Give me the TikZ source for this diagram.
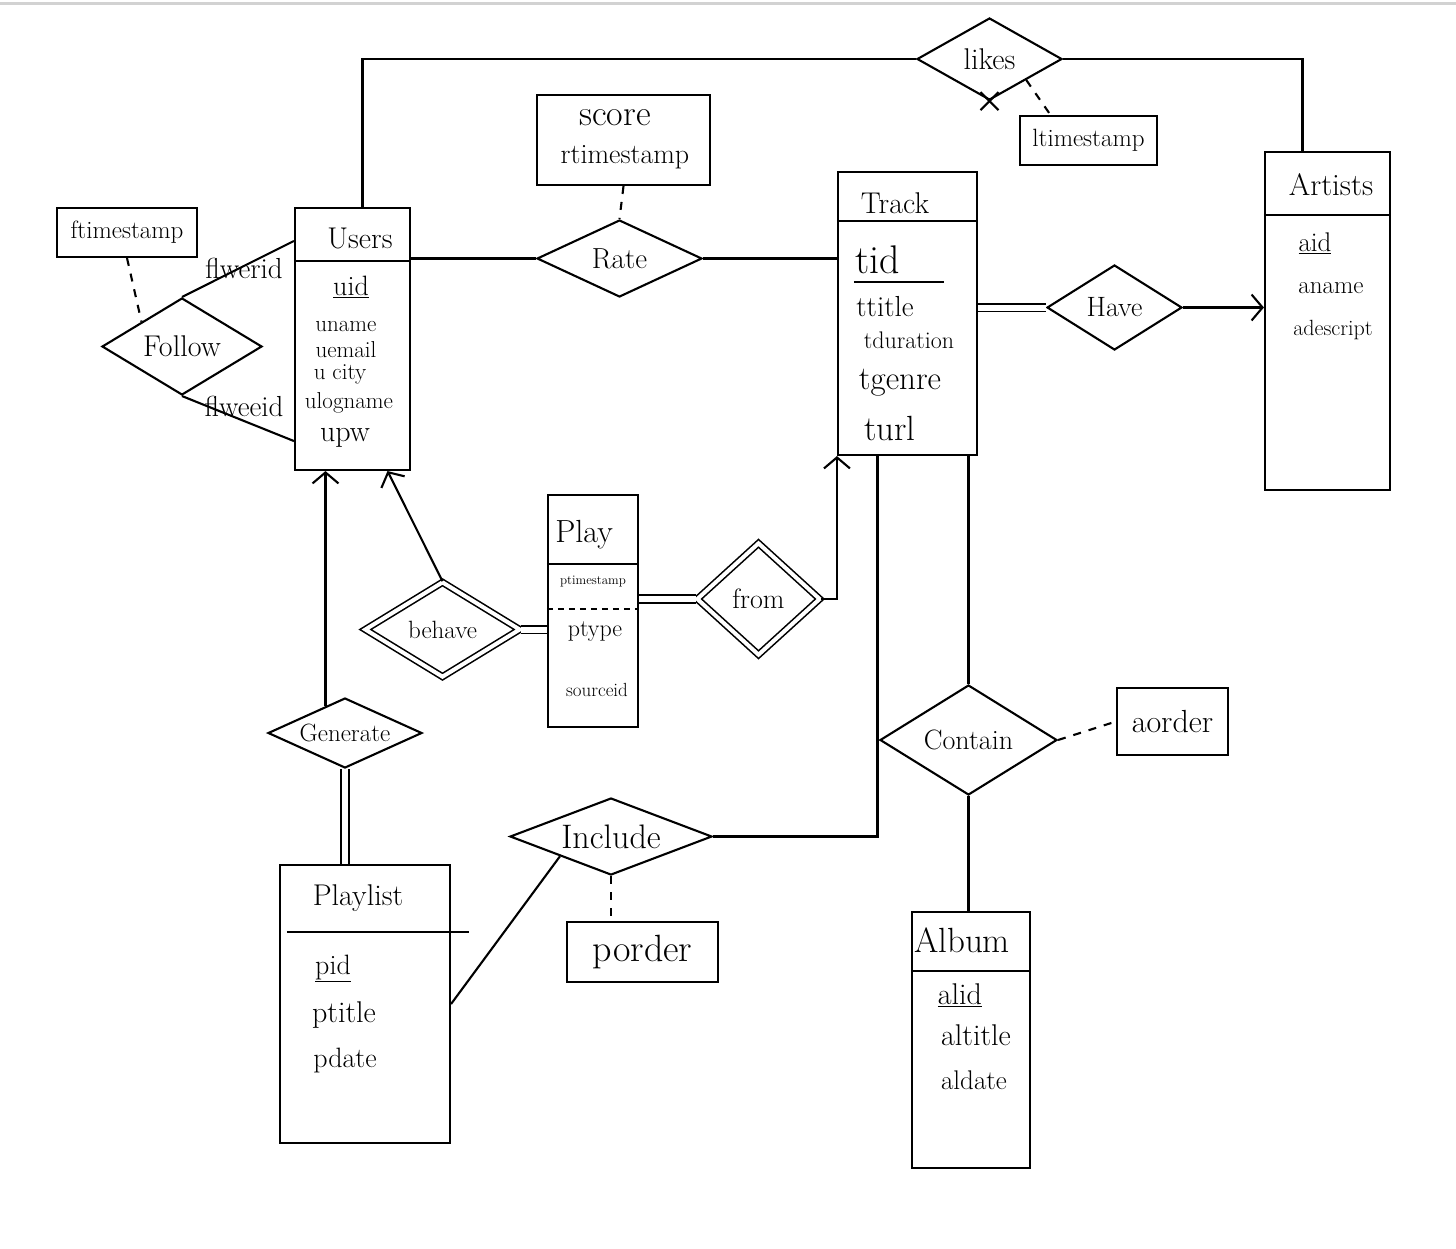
\documentclass[tikz,border=0pt]{standalone}
\usetikzlibrary{shapes.geometric,arrows.meta,calc}
\newcommand\hsz[1]{\fontsize{#1}{#1}\selectfont}
\begin{document}
\begin{tikzpicture}[x=1pt,y=-1pt, line width=2.1pt,
  entity/.style={draw, line width=2.1pt, inner sep=0pt, rectangle},
  attrbox/.style={draw, line width=2.1pt, inner sep=0pt, rectangle},
  rel/.style={draw, line width=2.1pt, shape=diamond, inner sep=0pt},
  wrel/.style={rel, double, double distance=4pt, line width=1.6pt},
  txt/.style={inner sep=0pt, anchor=center},
  arr/.style={-{Straight Barb[length=11pt,width=26pt,line width=2.1pt]}},
  dbl/.style={double, double distance=6pt, line width=1.7pt},
  dsh/.style={dashed, dash pattern=on 8pt off 8pt}
]
\useasboundingbox (0,0) rectangle (1456,1248);
\fill[white] (0,0) rectangle (1456,1248);
\draw[gray!35, line width=3pt] (0,3) -- (1456,3);

% ---------- entities ----------
\node[entity, minimum width=115pt, minimum height=262pt] (users) at (352.5,339) {};
\node[entity, minimum width=139pt, minimum height=283pt] (track) at (907.5,313.5) {};
\node[entity, minimum width=125pt, minimum height=338pt] (artists) at (1327.5,321) {};
\node[entity, minimum width=90pt, minimum height=232pt] (play) at (593,611) {};
\node[entity, minimum width=170pt, minimum height=278pt] (playlist) at (365,1004) {};
\node[entity, minimum width=118pt, minimum height=256pt] (album) at (971,1040) {};

% header separators
\draw ([shift={(0,54)}]users.north west) -- ([shift={(0,54)}]users.north east);
\draw ([shift={(0,50)}]track.north west) -- ([shift={(0,50)}]track.north east);
\draw ([shift={(0,64)}]artists.north west) -- ([shift={(0,64)}]artists.north east);
\draw ([shift={(0,70)}]play.north west) -- ([shift={(0,70)}]play.north east);
\draw[dashed, dash pattern=on 6pt off 5pt] ([shift={(0,115)}]play.north west) -- ([shift={(0,115)}]play.north east);
\draw ([shift={(8,68)}]playlist.north west) -- ([shift={(18,68)}]playlist.north east);
\draw ([shift={(0,60)}]album.north west) -- ([shift={(0,60)}]album.north east);

% entity texts
\node[txt] (tUsers) at (360,238) {\hsz{30}Users};
\node[txt] (tuid) at (351,287) {\hsz{28}\underline{uid}};
\node[txt] (tuname) at (346,327) {\hsz{23}uname};
\node[txt] (tuemail) at (346,350) {\hsz{23}uemail};
\node[txt] (tucity) at (340,374) {\hsz{23}u city};
\node[txt] (tulogname) at (349,403) {\hsz{23}ulogname};
\node[txt] (tupw) at (345,438) {\hsz{30}upw};

\node[txt] (tTrack) at (895,203) {\hsz{30}Track};
\node[txt] (ttid) at (878,260) {\hsz{40}tid};
\draw ([shift={(17,111)}]track.north west) -- ([shift={(107,111)}]track.north west);
\node[txt] (tttitle) at (885,307) {\hsz{29}ttitle};
\node[txt] (ttduration) at (909,340) {\hsz{24}tduration};
\node[txt] (ttgenre) at (900,383) {\hsz{33}tgenre};
\node[txt] (tturl) at (890,428) {\hsz{35}turl};

\node[txt] (tArtists) at (1331,185) {\hsz{31}Artists};
\node[txt] (taid) at (1315,243) {\hsz{27}\underline{aid}};
\node[txt] (taname) at (1331,288) {\hsz{25}aname};
\node[txt] (tadescript) at (1333,330) {\hsz{22}adescript};

\node[txt] (tPlay) at (584,535) {\hsz{32}Play};
\node[txt] (tptimestamp) at (593,582) {\hsz{13}ptimestamp};
\node[txt] (tptype) at (595,632) {\hsz{24}ptype};
\node[txt] (tsourceid) at (597,690) {\hsz{19}sourceid};

\node[txt] (tPlaylist) at (358,898) {\hsz{30}Playlist};
\node[txt] (tpid) at (333,968) {\hsz{28}\underline{pid}};
\node[txt] (tptitle) at (344,1015) {\hsz{30}ptitle};
\node[txt] (tpdate) at (345,1060) {\hsz{28}pdate};

\node[txt] (tAlbum) at (962,940) {\hsz{35}Album};
\node[txt] (talid) at (960,995) {\hsz{30}\underline{alid}};
\node[txt] (taltitle) at (976,1035) {\hsz{30}altitle};
\node[txt] (taldate) at (974,1080) {\hsz{27}aldate};

% ---------- attribute boxes ----------
\node[attrbox, minimum width=140pt, minimum height=49pt] (ftimestamp) at (127,232.5) {\hsz{25}ftimestamp};
\node[attrbox, minimum width=173pt, minimum height=90pt] (score) at (623.5,140) {};
\node[txt] (tscore) at (615,118) {\hsz{36}score};
\node[txt] (trtimestamp) at (625,157) {\hsz{28}rtimestamp};
\node[attrbox, minimum width=137pt, minimum height=49pt] (ltimestamp) at (1088.5,140.5) {\hsz{25}ltimestamp};
\node[attrbox, minimum width=151pt, minimum height=60pt] (porder) at (642.5,952) {\hsz{38}porder};
\node[attrbox, minimum width=111pt, minimum height=67pt] (aorder) at (1172.5,721.5) {\hsz{32}aorder};

% ---------- relationships ----------
\node[rel, minimum width=160pt, minimum height=97pt, aspect=1.65] (follow) at (182,346.5) {\hsz{30}Follow};
\node[rel, minimum width=145pt, minimum height=82pt, aspect=1.77] (likes) at (989.5,59) {\hsz{30}likes};
\node[rel, minimum width=165pt, minimum height=77pt, aspect=2.14] (rate) at (619.5,258.5) {\hsz{29}Rate};
\node[rel, minimum width=135pt, minimum height=85pt, aspect=1.59] (have) at (1114.5,307.5) {\hsz{28}Have};
\node[wrel, minimum width=155pt, minimum height=95pt, aspect=1.63] (behave) at (442.5,629.5) {\hsz{25}behave};
\node[wrel, minimum width=123pt, minimum height=112pt, aspect=1.1] (from) at (758.5,599) {\hsz{28}from};
\node[rel, minimum width=154pt, minimum height=70pt, aspect=2.2] (generate) at (345,733) {\hsz{25}Generate};
\node[rel, minimum width=202pt, minimum height=77pt, aspect=2.6] (include) at (611,836.5) {\hsz{34}Include};
\node[rel, minimum width=177pt, minimum height=110pt, aspect=1.6] (contain) at (968.5,740) {\hsz{28}Contain};

% ---------- connectors ----------
% likes
\draw ([shift={(10,0)}]users.north) |- (likes.west);
\draw (likes.east) -| ([shift={(-25,0)}]artists.north);
\draw ([shift={(-9,-9)}]likes.south) -- ([shift={(9,9)}]likes.south);
\draw ([shift={(9,-9)}]likes.south) -- ([shift={(-9,9)}]likes.south);
\draw[dsh] (likes.south east) -- ([shift={(-38,0)}]ltimestamp.north);

% rate
\draw[dsh] (score.south) -- (rate.north);
\draw (users.east |- rate.west) -- (rate.west);
\draw (rate.east) -- (track.west |- rate.east);

% have
\draw[dbl] (track.east |- have.west) -- (have.west);
\draw[arr] (have.east) -- (artists.west |- have.east);

% follow
\draw (follow.north) -- ([shift={(0,34)}]users.north west);
\draw (follow.south) -- ([shift={(0,-30)}]users.south west);
\node[txt] (flwerid) at (244,268) {\hsz{29}flwerid};
\node[txt] (flweeid) at (244,406) {\hsz{29}flweeid};
\draw[dsh] (ftimestamp.south) -- (follow.north west);

% behave / play / from
\draw[arr] (behave.north) -- ([shift={(35,0)}]users.south);
\draw[dbl] (behave.east) -- (play.west |- behave.east);
\draw[dbl] (play.east |- from.west) -- (from.west);
\draw[arr] (from.east) -| (track.south west);

% generate
\coordinate (genup) at ($(generate.west)!0.75!(generate.north)$);
\draw[arr] (genup) -- (genup |- users.south);
\draw[dbl] (generate.south) -- (generate.south |- playlist.north);

% include
\draw (playlist.east) -- (include.south west);
\draw (include.east) -| ([shift={(-30,0)}]track.south);
\draw[dsh] (include.south) -- (include.south |- porder.north);

% contain
\draw (contain.north |- track.south) -- (contain.north);
\draw[dsh] (contain.east) -- (aorder.west);
\draw (contain.south) -- (contain.south |- album.north);
\end{tikzpicture}
\end{document}
